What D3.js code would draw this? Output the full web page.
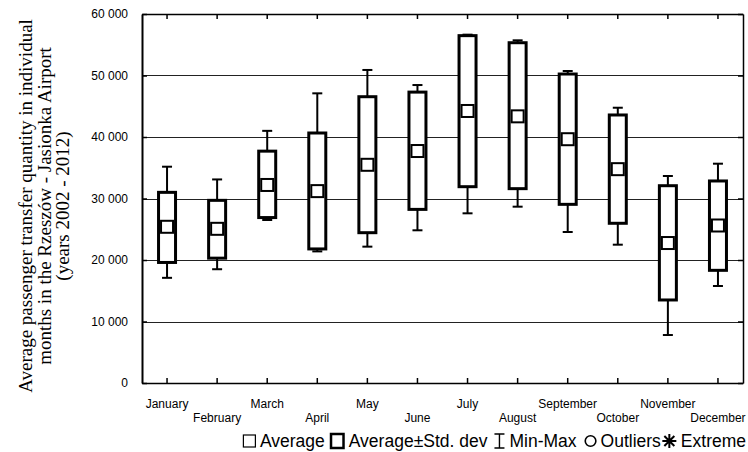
<!DOCTYPE html>
<html>
<head>
<meta charset="utf-8">
<script src="https://cdn.jsdelivr.net/npm/d3@7"></script>
<style>
  html, body { margin: 0; padding: 0; background: #fff; overflow: hidden; }
  svg { display: block; }
  .lbl { font-family: "Liberation Sans", Arial, sans-serif; font-size: 12px; fill: #000; }
  .legend-label { font-family: "Liberation Sans", Arial, sans-serif; font-size: 17.5px; fill: #000; }
  .y-title { font-family: "Liberation Serif", "Times New Roman", serif; font-size: 19px; fill: #000; }
</style>
</head>
<body>
<div id="chart"></div>
<script>
// valori
const months = ["January", "February", "March", "April", "May", "June",
  "July", "August", "September", "October", "November", "December"];
const means = [25400, 25070, 32200, 31200, 35480, 37720, 44230, 43360, 39640, 34770, 22760, 25610];
const sdUpper = [31000, 29700, 37700, 40650, 46550, 47300, 56480, 55330, 50240, 43580, 32080, 32850];
const sdLower = [19600, 20300, 26900, 21800, 24440, 28230, 31920, 31600, 29050, 25970, 13500, 18320];
const maxs = [35170, 33100, 41000, 47100, 50900, 48450, 56640, 55720, 50730, 44760, 33660, 35660];
const mins = [17100, 18500, 26500, 21400, 22170, 24830, 27590, 28670, 24550, 22490, 7800, 15770];
const yTicks = [0, 10000, 20000, 30000, 40000, 50000, 60000];
const yTitleLines = [
  "Average passenger transfer quantity in individual",
  "months in the Rzeszów - Jasionka Airport",
  "(years 2002 - 2012)"
];
const legendItems = [
  { type: "mean", label: "Average" },
  { type: "box", label: "Average±Std. dev" },
  { type: "whisker", label: "Min-Max" },
  { type: "circle", label: "Outliers" },
  { type: "star", label: "Extreme" }
];

const width = 748, height = 452;
const margin = { top: 14, right: 5, bottom: 69, left: 142 };
const innerWidth = width - margin.left - margin.right;
const innerHeight = height - margin.top - margin.bottom;

const svg = d3.select("#chart").append("svg")
  .attr("width", width).attr("height", height);
const g = svg.append("g").attr("transform", `translate(${margin.left},${margin.top})`);

const x = d3.scaleBand().domain(months).range([0, innerWidth]).padding(0);
const y = d3.scaleLinear().domain([0, 60000]).range([innerHeight, 0]);
const cx = m => x(m) + x.bandwidth() / 2;
const fmt = v => v === 0 ? "0" : d3.format(",")(v).replace(/,/g, " ");

// griglia
g.append("g").selectAll("line").data(yTicks.slice(1, -1)).join("line")
  .attr("x1", 0).attr("x2", innerWidth)
  .attr("y1", d => Math.round(y(d)) + 0.5).attr("y2", d => Math.round(y(d)) + 0.5)
  .attr("stroke", "#222").attr("stroke-width", 1);

// assi: tacche verso l'interno su tutti e quattro i lati
const axisStyle = sel => {
  sel.select(".domain").attr("stroke", "#000").attr("stroke-width", 1.5);
  sel.selectAll(".tick line").attr("stroke", "#000").attr("stroke-width", 1.5);
  sel.selectAll(".tick text").remove();
};
g.append("g").attr("transform", `translate(0,${innerHeight})`)
  .call(d3.axisBottom(x).tickSize(-5).tickSizeOuter(0))
  .call(axisStyle);
g.append("g")
  .call(d3.axisTop(x).tickSize(-5).tickSizeOuter(0))
  .call(axisStyle);
g.append("g")
  .call(d3.axisLeft(y).tickValues(yTicks).tickSize(-5).tickSizeOuter(0))
  .call(axisStyle)
  .select(".domain").attr("stroke-width", 2);
g.append("g").attr("transform", `translate(${innerWidth},0)`)
  .call(d3.axisRight(y).tickValues(yTicks).tickSize(-5).tickSizeOuter(0))
  .call(axisStyle);

// etichette asse y
g.append("g").selectAll("text").data(yTicks).join("text")
  .attr("class", "lbl")
  .attr("x", -14).attr("y", d => y(d) + 4)
  .attr("text-anchor", "end").text(fmt);

// etichette mesi, sfalsate su due righe
g.append("g").selectAll("text").data(months).join("text")
  .attr("class", "lbl")
  .attr("x", cx).attr("y", (d, i) => innerHeight + (i % 2 === 0 ? 25 : 39))
  .attr("text-anchor", "middle").text(d => d);

// baffi min-max
const boxes = g.append("g").selectAll("g").data(months).join("g");
boxes.append("line")
  .attr("x1", cx).attr("x2", cx)
  .attr("y1", (d, i) => y(maxs[i])).attr("y2", (d, i) => y(mins[i]))
  .attr("stroke", "#000").attr("stroke-width", 2);
boxes.append("line")
  .attr("x1", d => cx(d) - 5).attr("x2", d => cx(d) + 5)
  .attr("y1", (d, i) => y(maxs[i])).attr("y2", (d, i) => y(maxs[i]))
  .attr("stroke", "#000").attr("stroke-width", 2);
boxes.append("line")
  .attr("x1", d => cx(d) - 5).attr("x2", d => cx(d) + 5)
  .attr("y1", (d, i) => y(mins[i])).attr("y2", (d, i) => y(mins[i]))
  .attr("stroke", "#000").attr("stroke-width", 2);

// scatole media ± dev. std
const boxW = 17;
boxes.append("rect")
  .attr("x", d => cx(d) - boxW / 2).attr("width", boxW)
  .attr("y", (d, i) => y(sdUpper[i])).attr("height", (d, i) => y(sdLower[i]) - y(sdUpper[i]))
  .attr("fill", "#fff").attr("stroke", "#000").attr("stroke-width", 3);

// quadrato della media
const sq = 12;
boxes.append("rect")
  .attr("x", d => cx(d) - sq / 2).attr("width", sq)
  .attr("y", (d, i) => y(means[i]) - sq / 2).attr("height", sq)
  .attr("fill", "#fff").attr("stroke", "#000").attr("stroke-width", 2);

// titolo asse y su tre righe
const title = svg.append("text").attr("class", "y-title")
  .attr("transform", "translate(32,206) rotate(-90)")
  .attr("text-anchor", "middle");
title.selectAll("tspan").data(yTitleLines).join("tspan")
  .attr("x", 0).attr("y", (d, i) => i * 18.5).text(d => d);

// legenda, allineata a destra
const legend = svg.append("g");
const gaps = [5, 6, 8, 1, 0];
let cursor = 0;
legendItems.forEach((item, i) => {
  const s = legend.append("g").attr("transform", `translate(${cursor},0)`);
  let symW = 13;
  if (item.type === "mean") {
    s.append("rect").attr("x", 0.5).attr("y", -6).attr("width", 12).attr("height", 12)
      .attr("fill", "none").attr("stroke", "#000").attr("stroke-width", 1.2);
  } else if (item.type === "box") {
    symW = 15;
    s.append("rect").attr("x", 1.25).attr("y", -7).attr("width", 12.5).attr("height", 14)
      .attr("fill", "none").attr("stroke", "#000").attr("stroke-width", 2.5);
  } else if (item.type === "whisker") {
    symW = 12;
    s.append("path").attr("d", "M1,-7H11M6,-7V7M1,7H11")
      .attr("fill", "none").attr("stroke", "#000").attr("stroke-width", 1.4);
  } else if (item.type === "circle") {
    symW = 12;
    s.append("circle").attr("cx", 6).attr("cy", 0).attr("r", 5.3)
      .attr("fill", "none").attr("stroke", "#000").attr("stroke-width", 1.6);
  } else {
    symW = 15;
    s.append("path").attr("d", "M7.5,-7V7M0.5,0H14.5M2.5,-5L12.5,5M2.5,5L12.5,-5")
      .attr("fill", "none").attr("stroke", "#000").attr("stroke-width", 2);
  }
  const t = legend.append("text").attr("class", "legend-label")
    .attr("x", cursor + symW + 4).attr("y", 6).text(item.label);
  cursor += symW + 4 + t.node().getComputedTextLength() + gaps[i];
});
legend.attr("transform", `translate(${746 - cursor},441)`);
</script>
</body>
</html>
